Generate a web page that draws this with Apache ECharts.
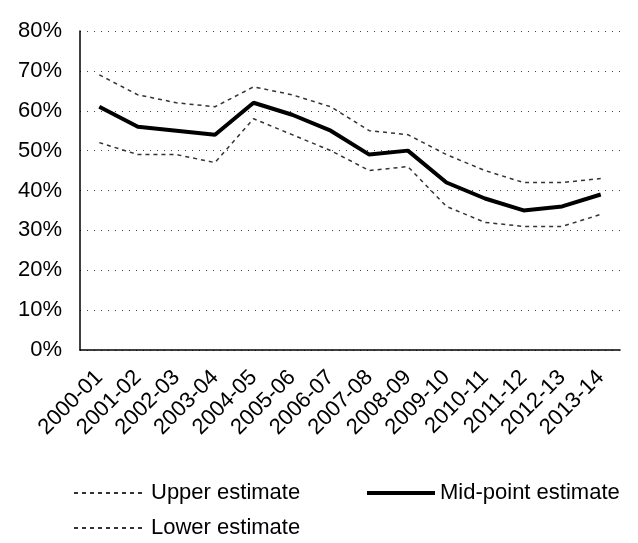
<!DOCTYPE html>
<html>
<head>
<meta charset="utf-8">
<script src="https://cdn.jsdelivr.net/npm/echarts@6/dist/echarts.min.js"></script>
<style>html,body{margin:0;padding:0;background:#fff;}#c{width:638px;height:543px;}</style>
</head>
<body>
<div id="c"></div>
<script>
const categories = ['2000-01','2001-02','2002-03','2003-04','2004-05','2005-06','2006-07','2007-08','2008-09','2009-10','2010-11','2011-12','2012-13','2013-14'];
const upperEstimate = [69, 64, 62, 61, 66, 64, 61, 55, 54, 49, 45, 42, 42, 43];
const midEstimate   = [61, 56, 55, 54, 62, 59, 55, 49, 50, 42, 38, 35, 36, 39];
const lowerEstimate = [52, 49, 49, 47, 58, 54, 50, 45, 46, 36, 32, 31, 31, 34];
const yTicks = [0, 10, 20, 30, 40, 50, 60, 70, 80];

const font = 'Liberation Sans, Arial, sans-serif';
const chart = echarts.init(document.getElementById('c'));
const legendText = {color: '#000', fontSize: 22, fontFamily: font};
const noSymbol = {color: 'transparent', borderWidth: 0, opacity: 0};
chart.setOption({
  animation: false,
  backgroundColor: '#fff',
  grid: {left: 80, right: 18, top: 31, bottom: 193, containLabel: false},
  legend: [
    {data: ['Upper estimate'], left: 68, top: 477, itemWidth: 72, itemHeight: 12, textStyle: legendText, itemStyle: noSymbol},
    {data: ['Mid-point estimate'], left: 360, top: 477, itemWidth: 68, itemHeight: 12, textStyle: legendText, itemStyle: noSymbol, lineStyle: {width: 4}},
    {data: ['Lower estimate'], left: 68, top: 512, itemWidth: 72, itemHeight: 12, textStyle: legendText, itemStyle: noSymbol}
  ],
  xAxis: {
    type: 'category',
    data: categories,
    boundaryGap: true,
    axisLine: {lineStyle: {color: '#000', width: 1.5}},
    axisTick: {alignWithLabel: true, inside: true, length: 4, lineStyle: {color: '#000'}},
    axisLabel: {rotate: 45, interval: 0, color: '#000', fontSize: 22, fontFamily: font, margin: 24}
  },
  yAxis: {
    type: 'value',
    min: yTicks[0],
    max: yTicks[yTicks.length - 1],
    interval: 10,
    axisLine: {show: true, lineStyle: {color: '#000', width: 1.5}},
    axisTick: {show: false},
    axisLabel: {formatter: v => v + '%', color: '#000', fontSize: 22, fontFamily: font, margin: 18},
    splitLine: {show: true, lineStyle: {color: '#444', type: [1, 6], width: 1}}
  },
  series: [
    {name: 'Upper estimate', type: 'line', data: upperEstimate, symbol: 'none', lineStyle: {color: '#333', width: 1.5, type: [4, 4]}, itemStyle: {color: '#333'}},
    {name: 'Mid-point estimate', type: 'line', data: midEstimate, symbol: 'none', lineStyle: {color: '#000', width: 4}, itemStyle: {color: '#000'}},
    {name: 'Lower estimate', type: 'line', data: lowerEstimate, symbol: 'none', lineStyle: {color: '#333', width: 1.5, type: [4, 4]}, itemStyle: {color: '#333'}}
  ]
});
</script>
</body>
</html>
